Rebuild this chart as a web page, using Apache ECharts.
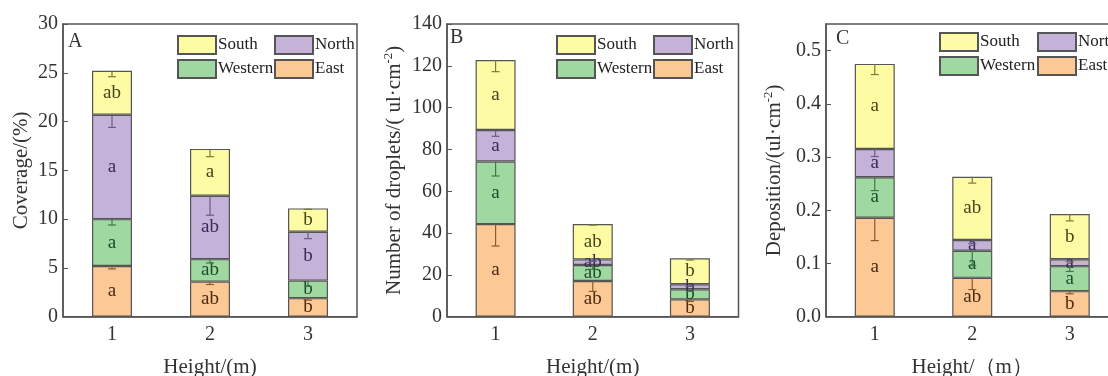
<!DOCTYPE html>
<html>
<head>
<meta charset="utf-8">
<script src="https://cdn.jsdelivr.net/npm/echarts@6/dist/echarts.min.js"></script>
<style>
html,body{margin:0;padding:0;background:#fff;}
#main{width:1108px;height:376px;}
</style>
</head>
<body>
<div id="main"></div>
<script>
var categories = ['1', '2', '3'];
var segNames = ['East', 'Western', 'North', 'South'];

// A - Coverage/(%)
var coverEast = [5.2, 3.6, 1.9];
var coverWestern = [4.8, 2.3, 1.8];
var coverNorth = [10.7, 6.5, 5.0];
var coverSouth = [4.5, 4.8, 2.4];
var coverErrEast = [0.3, 0.3, 0.2];
var coverErrWestern = [0.6, 0.4, 0.6];
var coverErrNorth = [1.3, 2.0, 0.7];
var coverErrSouth = [0.6, 0.8, 0.1];
var coverLetEast = ['a', 'ab', 'b'];
var coverLetWestern = ['a', 'ab', 'b'];
var coverLetNorth = ['a', 'ab', 'b'];
var coverLetSouth = ['ab', 'a', 'b'];

// B - Number of droplets
var dropEast = [44.3, 17.1, 8.3];
var dropWestern = [29.9, 7.6, 4.8];
var dropNorth = [15.1, 2.7, 2.4];
var dropSouth = [33.5, 16.9, 12.4];
var dropErrEast = [10.5, 5.0, 1.0];
var dropErrWestern = [6.9, 2.0, 1.0];
var dropErrNorth = [3.0, 1.0, 1.0];
var dropErrSouth = [5.6, 0.5, 0.8];
var dropLetEast = ['a', 'ab', 'b'];
var dropLetWestern = ['a', 'ab', 'b'];
var dropLetNorth = ['a', 'ab', 'b'];
var dropLetSouth = ['a', 'ab', 'b'];

// C - Deposition
var depEast = [0.186, 0.073, 0.048];
var depWestern = [0.076, 0.051, 0.047];
var depNorth = [0.053, 0.020, 0.013];
var depSouth = [0.160, 0.119, 0.085];
var depErrEast = [0.043, 0.022, 0.005];
var depErrWestern = [0.025, 0.028, 0.010];
var depErrNorth = [0.014, 0.007, 0.005];
var depErrSouth = [0.020, 0.012, 0.013];
var depLetEast = ['a', 'ab', 'b'];
var depLetWestern = ['a', 'a', 'a'];
var depLetNorth = ['a', 'a', 'a'];
var depLetSouth = ['a', 'ab', 'b'];

var FONT = '"Liberation Serif", "DejaVu Serif", serif';
var fillColors = ['#fcc894', '#a0d8a2', '#c4b2d8', '#fdfca4'];
var letterColors = ['#4a2a10', '#1e4a28', '#3a2a58', '#45451a'];
var errColors = ['#8a5a30', '#3f7a48', '#6a5a88', '#7a7a3a'];

var panels = [
	{vals: [coverEast, coverWestern, coverNorth, coverSouth],
	 errs: [coverErrEast, coverErrWestern, coverErrNorth, coverErrSouth],
	 lets: [coverLetEast, coverLetWestern, coverLetNorth, coverLetSouth]},
	{vals: [dropEast, dropWestern, dropNorth, dropSouth],
	 errs: [dropErrEast, dropErrWestern, dropErrNorth, dropErrSouth],
	 lets: [dropLetEast, dropLetWestern, dropLetNorth, dropLetSouth]},
	{vals: [depEast, depWestern, depNorth, depSouth],
	 errs: [depErrEast, depErrWestern, depErrNorth, depErrSouth],
	 lets: [depLetEast, depLetWestern, depLetNorth, depLetSouth]}
];

var grids = [
	{left: 63, top: 24, width: 294, height: 292.7},
	{left: 447, top: 24, width: 291.5, height: 292.7},
	{left: 826, top: 24, width: 292.5, height: 292.7}
];
grids.forEach(function(g){
	g.show = true;
	g.borderColor = '#555';
	g.borderWidth = 1.5;
	g.backgroundColor = 'transparent';
	g.containLabel = false;
	g.outerBoundsMode = 'none';
});

var xTitles = ['Height/(m)', 'Height/(m)', 'Height/\uff08m\uff09'];
var yTitles = ['Coverage/(%)', 'Number of droplets/( ul\u00b7cm{sup|-2})', 'Deposition/(ul\u00b7cm{sup|-2})'];
var yGaps = [31, 41, 40];
var yRange = [[0, 30, 5], [0, 140, 20], [0, 0.55, 0.1]];

var xAxes = [], yAxes = [];
for (var p = 0; p < 3; p++) {
	xAxes.push({
		gridIndex: p,
		type: 'category',
		data: categories,
		axisLine: {lineStyle: {color: '#555', width: 1.5}},
		axisTick: {inside: true, alignWithLabel: true, length: 4, lineStyle: {color: '#555'}},
		axisLabel: {fontFamily: FONT, fontSize: 20, color: '#333', margin: 8},
		name: xTitles[p],
		nameLocation: 'middle',
		nameGap: 40,
		nameTextStyle: {fontFamily: FONT, fontSize: 21, color: '#333'}
	});
	yAxes.push({
		gridIndex: p,
		type: 'value',
		min: yRange[p][0],
		max: yRange[p][1],
		interval: yRange[p][2],
		splitLine: {show: false},
		axisLine: {show: true, lineStyle: {color: '#555', width: 1.5}},
		axisTick: {show: true, inside: true, length: 5, lineStyle: {color: '#555'}},
		axisLabel: {
			fontFamily: FONT, fontSize: 20, color: '#333', margin: 5,
			showMaxLabel: p == 2 ? false : true,
			formatter: p == 2 ? function(v){ return v.toFixed(1); } : '{value}'
		},
		name: yTitles[p],
		nameLocation: 'middle',
		nameGap: yGaps[p],
		nameTextStyle: {
			fontFamily: FONT, fontSize: 21, color: '#333',
			rich: {sup: {fontFamily: FONT, fontSize: 13, color: '#333', verticalAlign: 'top', lineHeight: 24}}
		}
	});
}

var series = [];
panels.forEach(function(pn, p){
	segNames.forEach(function(name, s){
		series.push({
			name: name,
			type: 'bar',
			stack: 'p' + p,
			xAxisIndex: p,
			yAxisIndex: p,
			barWidth: 40,
			data: pn.vals[s],
			itemStyle: {color: fillColors[s], borderColor: '#555', borderWidth: 1.2},
			label: {
				show: true,
				position: 'inside',
				fontFamily: FONT,
				fontSize: 19,
				color: letterColors[s],
				formatter: function(d){ return pn.lets[s][d.dataIndex]; }
			}
		});
	});
	// 误差线
	var errData = [];
	categories.forEach(function(c, i){
		var top = 0;
		for (var s = 0; s < 4; s++) {
			top += pn.vals[s][i];
			errData.push([i, top, top - pn.errs[s][i], s]);
		}
	});
	series.push({
		type: 'custom',
		xAxisIndex: p,
		yAxisIndex: p,
		z: 5,
		silent: true,
		data: errData,
		encode: {x: 0, y: [1, 2]},
		renderItem: function(params, api){
			var hi = api.coord([api.value(0), api.value(1)]);
			var lo = api.coord([api.value(0), api.value(2)]);
			var col = errColors[api.value(3)];
			var st = {stroke: col, lineWidth: 1.2};
			return {
				type: 'group',
				children: [
					{type: 'line', shape: {x1: hi[0], y1: hi[1], x2: lo[0], y2: lo[1]}, style: st},
					{type: 'line', shape: {x1: lo[0] - 4, y1: lo[1], x2: lo[0] + 4, y2: lo[1]}, style: st}
				]
			};
		}
	});
});

// legend 两列
var legendPos = [[177, 35], [274, 35], [556, 35], [653, 35], [939, 32], [1037, 32]];
var legends = legendPos.map(function(pos, k){
	return {
		orient: 'vertical',
		left: pos[0],
		top: pos[1],
		itemWidth: 38,
		itemHeight: 18,
		itemGap: 4,
		icon: 'rect',
		padding: 0,
		data: k % 2 == 0 ? ['South', 'Western'] : ['North', 'East'],
		textStyle: {fontFamily: FONT, fontSize: 17, color: '#222', padding: [0, 0, 0, -3]}
	};
});

var panelLetters = [['A', 75, 43], ['B', 457, 39], ['C', 843, 40]];

var chart = echarts.init(document.getElementById('main'));
chart.setOption({
	animation: false,
	backgroundColor: '#fff',
	grid: grids,
	xAxis: xAxes,
	yAxis: yAxes,
	legend: legends,
	graphic: panelLetters.map(function(t){
		return {
			type: 'text',
			left: t[1] - 7,
			top: t[2] - 11,
			style: {text: t[0], fontFamily: FONT, fontSize: 20, fill: '#333'}
		};
	}),
	series: series
});
</script>
</body>
</html>
